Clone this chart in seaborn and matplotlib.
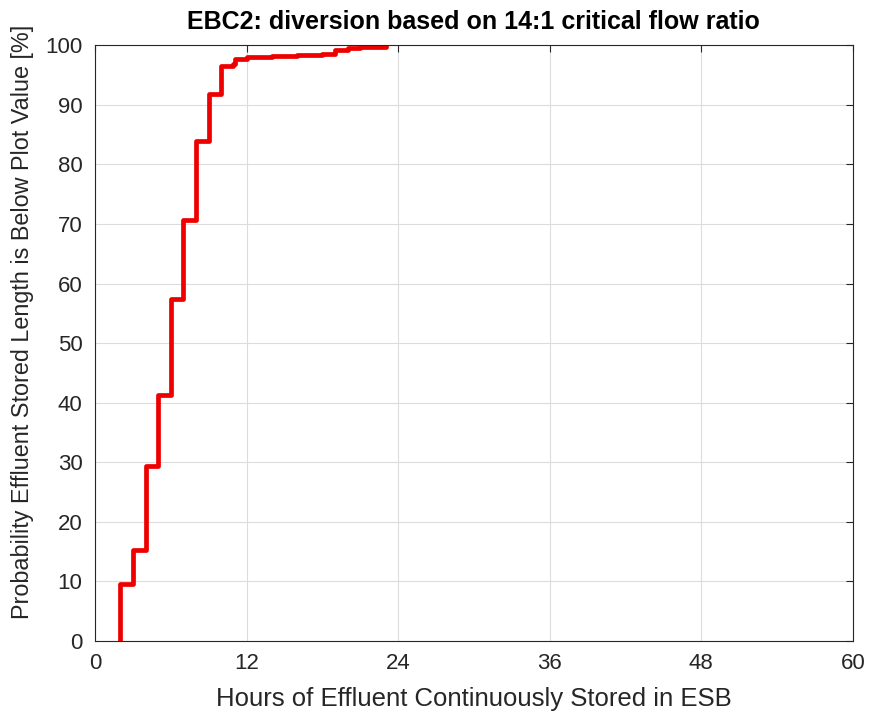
import matplotlib.pyplot as plt
import pandas as pd
import seaborn as sns

# cumulative probability (%) of stored length
hours = [2, 2, 3, 4, 5, 6, 7, 8, 9, 10, 10.9, 11.1, 12, 14, 16, 18, 19, 20, 21, 23]
prob = [0, 9.6, 15.3, 29.4, 41.3, 57.4, 70.6, 84.0, 91.9, 96.5, 96.9, 97.7,
        98.0, 98.2, 98.3, 98.6, 99.2, 99.6, 99.7, 99.9]

x_ticks = [0, 12, 24, 36, 48, 60]
y_ticks = [0, 10, 20, 30, 40, 50, 60, 70, 80, 90, 100]

df = pd.DataFrame({"hours": hours, "prob": prob})

sns.set_style("white")
plt.rcParams["font.family"] = ["Liberation Sans", "DejaVu Sans"]

fig = plt.figure(figsize=(8.72, 7.19), dpi=100)
ax = fig.add_axes([0.109, 0.1085, 0.869, 0.8285])

sns.lineplot(data=df, x="hours", y="prob", sort=False, estimator=None,
             drawstyle="steps-post", color="#ee0000", linewidth=3.4, ax=ax)

ax.set_xlim(0, 60)
ax.set_ylim(0, 100)
ax.set_xticks(x_ticks)
ax.set_yticks(y_ticks)
ax.grid(True, color="#dcdcdc", linewidth=0.8)
ax.tick_params(direction="in", length=5, width=0.8, colors="#262626",
               labelsize=16, top=True, right=True, labeltop=False,
               labelright=False)
ax.tick_params(axis="x", pad=9)
ax.tick_params(axis="y", pad=9)
for s in ax.spines.values():
    s.set_color("#262626")
    s.set_linewidth(0.8)

ax.set_xlabel("Hours of Effluent Continuously Stored in ESB", fontsize=18.5,
              color="#262626", labelpad=9)
ax.set_ylabel("Probability Effluent Stored Length is Below Plot Value [%]",
              fontsize=16.8, color="#262626")
ax.yaxis.set_label_coords(-0.08, 0.535)
ax.set_title("EBC2: diversion based on 14:1 critical flow ratio",
             fontsize=18, fontweight="bold", color="black", pad=12)

fig.savefig("out.png", dpi=100)
